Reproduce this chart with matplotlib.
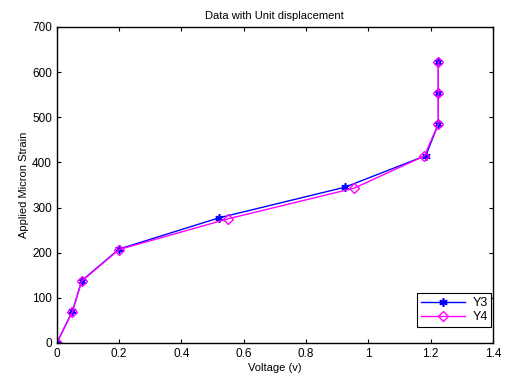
import matplotlib
matplotlib.use("Agg")
import matplotlib.pyplot as plt

# data
volt_y3 = [0, 0.05, 0.08, 0.2, 0.52, 0.925, 1.185, 1.225, 1.225, 1.225]
strain_y3 = [0, 70, 138, 208, 277, 345, 415, 485, 553, 623]
volt_y4 = [0, 0.05, 0.08, 0.2, 0.55, 0.955, 1.18, 1.225, 1.225, 1.225]
strain_y4 = [0, 69, 137, 207, 275, 343, 414, 485, 553, 623]

plt.rcParams["font.family"] = ["Liberation Sans", "DejaVu Sans"]
plt.rcParams["font.size"] = 8

fig = plt.figure(figsize=(5.07, 3.79), dpi=100)
ax = fig.add_axes([0.112, 0.095, 0.86, 0.834])

ax.plot(volt_y3, strain_y3, color="blue", marker=(6, 2, 0), markersize=6,
        markeredgewidth=1.2, linewidth=1.0, label="Y3")
ax.plot(volt_y4, strain_y4, color="magenta", marker="D", markersize=5,
        markerfacecolor="none", markeredgewidth=1.0, linewidth=1.0, label="Y4")

ax.set_xlim(0, 1.4)
ax.set_ylim(0, 700)
ax.set_xticks([0, 0.2, 0.4, 0.6, 0.8, 1, 1.2, 1.4])
ax.set_xticklabels(["0", "0.2", "0.4", "0.6", "0.8", "1", "1.2", "1.4"])
ax.set_yticks(range(0, 701, 100))
ax.tick_params(direction="in", length=3, top=True, right=True, labelsize=8.5)
for s in ax.spines.values():
    s.set_linewidth(1.0)

ax.set_title("Data with Unit displacement", fontsize=8)
ax.set_xlabel("Voltage (v)", fontsize=8, labelpad=2)
ax.set_ylabel("Applied Micron Strain", fontsize=8, labelpad=2)

leg = ax.legend(loc="lower right", bbox_to_anchor=(0.997, 0.05),
                fancybox=False, edgecolor="black", framealpha=1,
                borderaxespad=0, handlelength=3.5, fontsize=9,
                borderpad=0.3, labelspacing=0.2, handletextpad=0.6)
leg.get_frame().set_linewidth(0.8)

fig.savefig("out.png", dpi=100)
